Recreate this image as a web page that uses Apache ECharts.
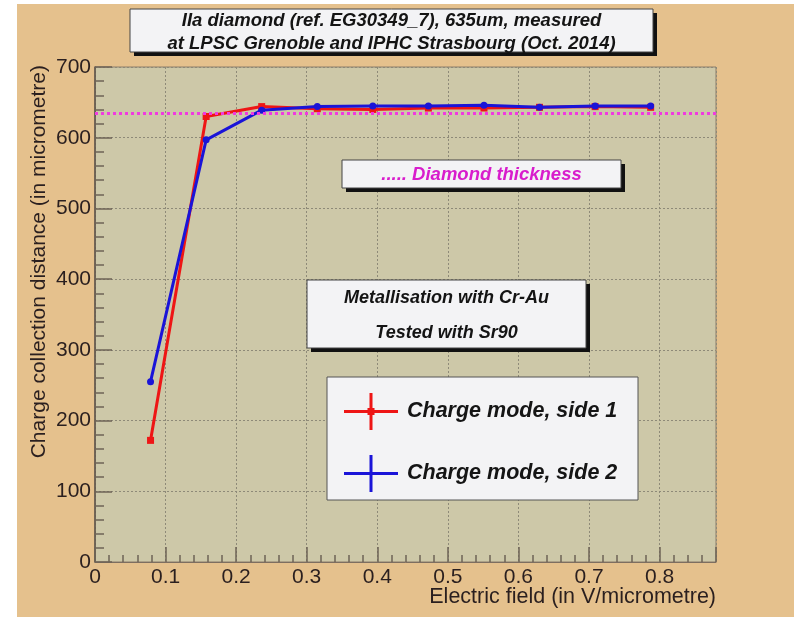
<!DOCTYPE html>
<html>
<head>
<meta charset="utf-8">
<title>IIa diamond charge collection distance</title>
<script src="https://cdn.jsdelivr.net/npm/echarts@6/dist/echarts.min.js"></script>
<style>
  html, body { margin: 0; padding: 0; background: #ffffff; }
  #chart { width: 794px; height: 617px; }
</style>
</head>
<body>
<div id="chart"></div>
<script>
// Electric field (V/micrometre) for each bias step
const fieldValues = [0.0787, 0.1575, 0.2362, 0.3150, 0.3937, 0.4724, 0.5512, 0.6299, 0.7087, 0.7874];
// Charge collection distance (micrometre)
const side1Values = [172, 630, 644, 641, 640, 642, 642, 643, 644, 643];
const side2Values = [255, 597, 639, 644, 645, 645, 646, 643, 645, 645];
const thicknessValue = 635;

const seriesNames = ['Charge mode, side 1', 'Charge mode, side 2'];
const titleLines = ['IIa diamond (ref. EG30349_7), 635um, measured',
                    'at LPSC Grenoble and IPHC Strasbourg (Oct. 2014)'];
const infoLines = ['Metallisation with Cr-Au', 'Tested with Sr90'];
const thicknessLabel = '..... Diamond thickness';
const xTitle = 'Electric field (in V/micrometre)';
const yTitle = 'Charge collection distance (in micrometre)';

const FONT = '"Liberation Sans", Arial, Helvetica, sans-serif';
const TXT = '#2a1f1f';
const BOX_Z = 10;

function pairs(xs, ys) { return xs.map((x, i) => [x, ys[i]]); }

// Framed note box with a solid drop shadow
function noteBox(x, y, w, h, lines, lineY, color, size, shadow) {
  const items = [];
  if (shadow) {
    items.push({ type: 'rect', z: BOX_Z, shape: { x: x + 4, y: y + 4, width: w, height: h },
      style: { fill: '#111111' } });
  }
  items.push({ type: 'rect', z: BOX_Z + 1, shape: { x: x, y: y, width: w, height: h },
    style: { fill: '#f3f3f5', stroke: '#444444', lineWidth: 1 } });
  lines.forEach((t, i) => {
    items.push({ type: 'text', z: BOX_Z + 2, x: x + w / 2, y: lineY[i],
      style: { text: t, fill: color, font: 'italic bold ' + size + 'px ' + FONT,
        textAlign: 'center', textVerticalAlign: 'middle' } });
  });
  return items;
}

const crossPath = 'path://M0,17h54v3H0z M25.5,0h3v37h-3z';
const crossPathDot = 'path://M0,17h54v3H0z M25.5,0h3v37h-3z M23.5,15h7v7h-7z';

const chart = echarts.init(document.getElementById('chart'), null, { renderer: 'canvas' });

chart.setOption({
  animation: false,
  backgroundColor: '#ffffff',
  grid: {
    left: 95, top: 67, width: 621, height: 495,
    show: true, backgroundColor: '#cdc8a8', borderColor: '#8c7c68', borderWidth: 1
  },
  xAxis: {
    type: 'value', min: 0, max: 0.88, interval: 0.1,
    axisLine: { show: true, onZero: false, lineStyle: { color: '#7d6e60', width: 1 } },
    axisTick: { show: true, inside: true, length: 15, lineStyle: { color: '#6e6356', width: 1.5 } },
    minorTick: { show: true, splitNumber: 5, length: 7, lineStyle: { color: '#6e6356', width: 1.5 } },
    splitLine: { show: true, lineStyle: { color: '#8e8a78', type: [2, 2], width: 1 } },
    axisLabel: {
      color: TXT, fontFamily: FONT, fontSize: 21, margin: 5, showMaxLabel: false,
      formatter: v => (Math.abs(v * 10 - Math.round(v * 10)) < 1e-6 ? String(Math.round(v * 10) / 10) : '')
    }
  },
  yAxis: {
    type: 'value', min: 0, max: 700, interval: 100,
    axisLine: { show: true, lineStyle: { color: '#5d5248', width: 1.5 } },
    axisTick: { show: true, inside: true, length: 17, lineStyle: { color: '#6e6356', width: 1.5 } },
    minorTick: { show: true, splitNumber: 5, length: 9, lineStyle: { color: '#6e6356', width: 1.5 } },
    splitLine: { show: true, lineStyle: { color: '#8e8a78', type: [2, 2], width: 1 } },
    axisLabel: { color: TXT, fontFamily: FONT, fontSize: 21, margin: 4 }
  },
  legend: {
    orient: 'vertical', left: 339, top: 388, itemWidth: 54, itemHeight: 37, itemGap: 25,
    z: 20,
    textStyle: { color: '#151515', fontFamily: FONT, fontSize: 21.5, fontWeight: 'bold',
      fontStyle: 'italic', padding: [0, 0, 0, 4] },
    data: [
      { name: seriesNames[0], icon: crossPathDot },
      { name: seriesNames[1], icon: crossPath }
    ]
  },
  series: [
    {
      name: seriesNames[0], type: 'line', z: 3,
      data: pairs(fieldValues, side1Values),
      symbol: 'rect', symbolSize: 7, color: '#ee1515',
      lineStyle: { width: 3, color: '#ee1515' },
      markLine: {
        silent: true, symbol: 'none', label: { show: false },
        lineStyle: { color: '#f03ae0', type: [3, 3], width: 3 },
        data: [{ yAxis: thicknessValue }]
      }
    },
    {
      name: seriesNames[1], type: 'line', z: 4,
      data: pairs(fieldValues, side2Values),
      symbol: 'circle', symbolSize: 7, color: '#1a14d8',
      lineStyle: { width: 3, color: '#1a14d8' }
    }
  ],
  graphic: [
    // canvas background
    { type: 'rect', z: -10, silent: true, shape: { x: 17, y: 4, width: 777, height: 613 },
      style: { fill: '#e5c18d' } },
    ...noteBox(130, 9, 523, 43, titleLines, [21, 44], '#141414', 18.5, true),
    ...noteBox(342, 160, 279, 28, [thicknessLabel], [175], '#d81ccc', 18.5, true),
    ...noteBox(307, 280, 279, 68, infoLines, [298, 333], '#141414', 18, true),
    { type: 'rect', z: BOX_Z + 1, shape: { x: 327, y: 377, width: 311, height: 123 },
      style: { fill: '#f3f3f5', stroke: '#555555', lineWidth: 1 } },
    // axis titles
    { type: 'text', z: 3, x: 716, y: 597,
      style: { text: xTitle, fill: TXT, font: '21.5px ' + FONT, textAlign: 'right', textVerticalAlign: 'middle' } },
    { type: 'text', z: 3, x: 39, y: 65, rotation: Math.PI / 2,
      style: { text: yTitle, fill: TXT, font: '21px ' + FONT, textAlign: 'right', textVerticalAlign: 'middle' } }
  ]
});
</script>
</body>
</html>
